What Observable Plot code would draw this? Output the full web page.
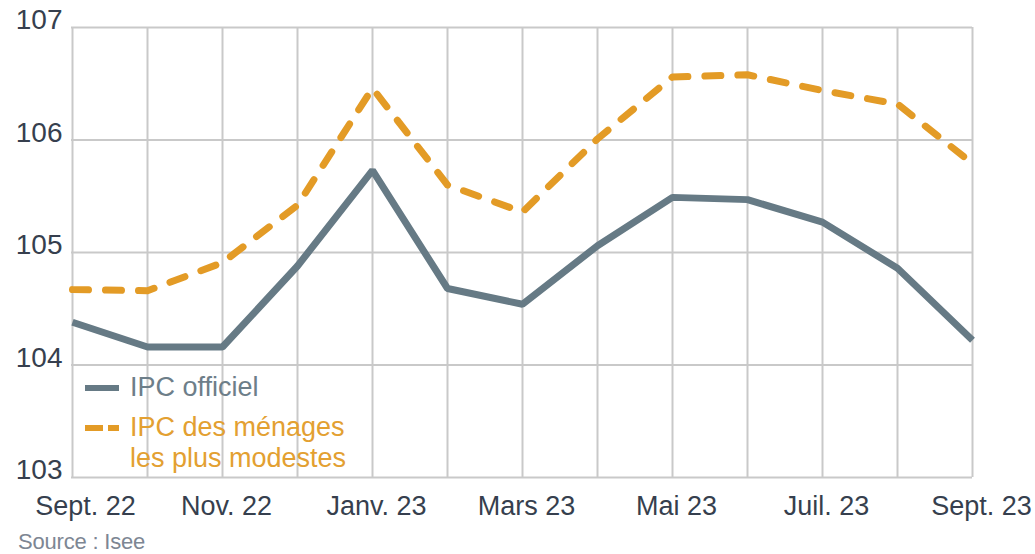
<!DOCTYPE html>
<html><head><meta charset="utf-8">
<script src="https://cdn.jsdelivr.net/npm/d3@7"></script>
<script src="https://cdn.jsdelivr.net/npm/@observablehq/plot@0.6"></script>
<style>
body{margin:0;background:#fff;}
#wrap{position:relative;width:1035px;height:554px;font-family:"Liberation Sans",Arial,sans-serif;}
#wrap svg{display:block;}
#legend{position:absolute;left:84px;top:372px;font-size:27px;line-height:31px;}
#legend .row{display:flex;align-items:flex-start;}
#legend svg{margin-right:10px;margin-top:0px;}
#caption{position:absolute;left:18px;top:530px;font-size:22px;line-height:24px;color:#7d8693;letter-spacing:-0.2px;}
</style></head><body><div id="wrap"></div>
<script>
const months = ["Sept. 22","Oct. 22","Nov. 22","Déc. 22","Janv. 23","Févr. 23","Mars 23","Avr. 23","Mai 23","Juin 23","Juil. 23","Août 23","Sept. 23"];
const tickLabels = ["Sept. 22","Nov. 22","Janv. 23","Mars 23","Mai 23","Juil. 23","Sept. 23"];
const ipcOfficiel = [104.38,104.16,104.16,104.88,105.73,104.68,104.54,105.06,105.49,105.47,105.27,104.86,104.22];
const ipcModestes = [104.67,104.66,104.91,105.42,106.46,105.60,105.36,106.01,106.56,106.58,106.44,106.32,105.79];
const yTicks = [103,104,105,106,107];
const seriesNames = ["IPC officiel","IPC des ménages les plus modestes"];
const caption = "Source : Isee";

const grey = "#667a85", orange = "#e39b26", gridColor = "#c9c9c9", textColor = "#363f4e";

const rowsA = months.map((m,i)=>({month:m, value:ipcOfficiel[i]}));
const rowsB = months.map((m,i)=>({month:m, value:ipcModestes[i]}));

const xAxisOpts = {tickSize:0, tickPadding:18, fill:textColor, fontSize:27, label:null};
const firstTick = tickLabels.slice(0,1), lastTick = tickLabels.slice(-1), midTicks = tickLabels.slice(1,-1);

const chart = Plot.plot({
  width:1035, height:530,
  marginLeft:71, marginRight:63, marginTop:27, marginBottom:53,
  style:{fontFamily:'"Liberation Sans",Arial,sans-serif', fontSize:"27px", color:textColor, background:"#fff"},
  x:{type:"point", domain:months, padding:0},
  y:{domain:[103,107]},
  marks:[
    Plot.gridX(months,{stroke:gridColor, strokeWidth:2, strokeOpacity:1}),
    Plot.gridY(yTicks,{stroke:gridColor, strokeWidth:2, strokeOpacity:1}),
    Plot.axisX(firstTick,{...xAxisOpts, dx:13}),
    Plot.axisX(midTicks,{...xAxisOpts, dx:4}),
    Plot.axisX(lastTick,{...xAxisOpts, dx:9}),
    Plot.axisY(yTicks,{tickSize:0, tickPadding:9, fill:textColor, fontSize:28, label:null, tickFormat:d3.format("d"), textAnchor:"end", dy:-7}),
    Plot.line(rowsA,{x:"month", y:"value", stroke:grey, strokeWidth:7, strokeLinejoin:"miter", strokeLinecap:"butt"}),
    Plot.line(rowsB,{x:"month", y:"value", stroke:orange, strokeWidth:7, strokeDasharray:"16,17", strokeLinecap:"round", strokeLinejoin:"round"})
  ]
});
const wrap = document.getElementById("wrap");
wrap.appendChild(chart);

const legend = document.createElement("div");
legend.id = "legend";
const items = [
  {name:seriesNames[0], color:grey, dash:null, lines:[seriesNames[0]]},
  {name:seriesNames[1], color:orange, dash:"18,5", lines:["IPC des ménages","les plus modestes"]}
];
items.forEach((it,k)=>{
  const row = document.createElement("div");
  row.className="row";
  if(k===1) row.style.marginTop="9px";
  row.innerHTML = `<svg width="36" height="31"><line x1="1" x2="35" y1="16" y2="16" stroke="${it.color}" stroke-width="6" ${it.dash?`stroke-dasharray="${it.dash}" stroke-linecap="butt"`:""}/></svg><div style="color:${it.color === grey ? '#6d7e89' : '#e3a031'}">${it.lines.join("<br>")}</div>`;
  legend.appendChild(row);
});
wrap.appendChild(legend);

const cap = document.createElement("div");
cap.id="caption";
cap.textContent = caption;
wrap.appendChild(cap);
</script>
</body></html>
